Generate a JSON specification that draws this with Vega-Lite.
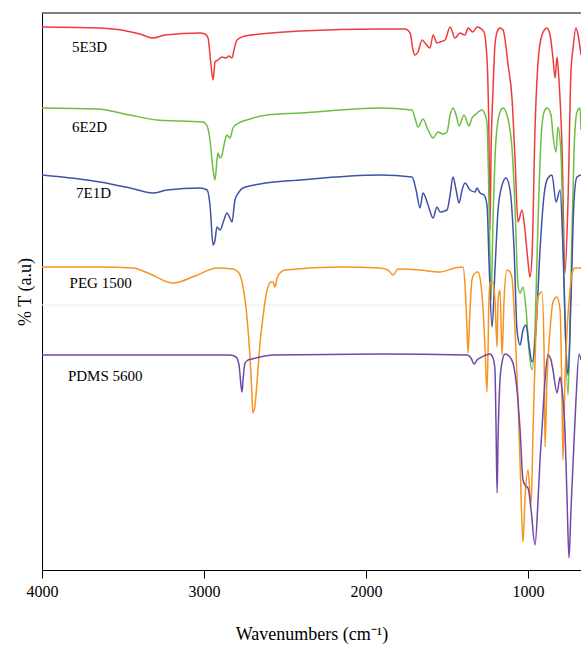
{
  "$schema": "https://vega.github.io/schema/vega-lite/v6.json",
  "width": 539,
  "height": 557,
  "autosize": {"type": "none"},
  "padding": {"left": 42, "top": 13, "right": 0, "bottom": 76},
  "background": "white",
  "config": {
    "view": {"stroke": null},
    "axis": {"labelFont": "Liberation Serif", "titleFont": "Liberation Serif"}
  },
  "datasets": {
    "spectra": [
      {"s":"5E3D","wn":4000,"t":543},{"s":"5E3D","wn":3642,"t":542},{"s":"5E3D","wn":3395,"t":536},{"s":"5E3D","wn":3315,"t":532},{"s":"5E3D","wn":3241,"t":535},{"s":"5E3D","wn":3025,"t":537},{"s":"5E3D","wn":2994,"t":536},{"s":"5E3D","wn":2975,"t":532},{"s":"5E3D","wn":2957,"t":505},{"s":"5E3D","wn":2944,"t":490},{"s":"5E3D","wn":2932,"t":508},{"s":"5E3D","wn":2914,"t":510},{"s":"5E3D","wn":2889,"t":513},{"s":"5E3D","wn":2864,"t":512},{"s":"5E3D","wn":2846,"t":514},{"s":"5E3D","wn":2827,"t":512},{"s":"5E3D","wn":2815,"t":520},{"s":"5E3D","wn":2796,"t":530},{"s":"5E3D","wn":2747,"t":534},{"s":"5E3D","wn":2654,"t":536},{"s":"5E3D","wn":2407,"t":539},{"s":"5E3D","wn":1914,"t":541},{"s":"5E3D","wn":1759,"t":541},{"s":"5E3D","wn":1728,"t":537},{"s":"5E3D","wn":1710,"t":520},{"s":"5E3D","wn":1698,"t":515},{"s":"5E3D","wn":1679,"t":518},{"s":"5E3D","wn":1654,"t":530},{"s":"5E3D","wn":1636,"t":527},{"s":"5E3D","wn":1605,"t":522},{"s":"5E3D","wn":1586,"t":535},{"s":"5E3D","wn":1562,"t":527},{"s":"5E3D","wn":1543,"t":528},{"s":"5E3D","wn":1512,"t":530},{"s":"5E3D","wn":1481,"t":543},{"s":"5E3D","wn":1451,"t":532},{"s":"5E3D","wn":1420,"t":537},{"s":"5E3D","wn":1389,"t":535},{"s":"5E3D","wn":1370,"t":542},{"s":"5E3D","wn":1340,"t":538},{"s":"5E3D","wn":1315,"t":543},{"s":"5E3D","wn":1296,"t":542},{"s":"5E3D","wn":1272,"t":538},{"s":"5E3D","wn":1253,"t":510},{"s":"5E3D","wn":1241,"t":430},{"s":"5E3D","wn":1235,"t":340},{"s":"5E3D","wn":1228,"t":420},{"s":"5E3D","wn":1216,"t":480},{"s":"5E3D","wn":1204,"t":525},{"s":"5E3D","wn":1191,"t":538},{"s":"5E3D","wn":1173,"t":542},{"s":"5E3D","wn":1154,"t":540},{"s":"5E3D","wn":1123,"t":505},{"s":"5E3D","wn":1099,"t":472},{"s":"5E3D","wn":1080,"t":410},{"s":"5E3D","wn":1062,"t":348},{"s":"5E3D","wn":1037,"t":360},{"s":"5E3D","wn":1019,"t":340},{"s":"5E3D","wn":1000,"t":308},{"s":"5E3D","wn":988,"t":293},{"s":"5E3D","wn":975,"t":315},{"s":"5E3D","wn":957,"t":440},{"s":"5E3D","wn":938,"t":508},{"s":"5E3D","wn":914,"t":535},{"s":"5E3D","wn":883,"t":542},{"s":"5E3D","wn":864,"t":535},{"s":"5E3D","wn":846,"t":512},{"s":"5E3D","wn":833,"t":492},{"s":"5E3D","wn":821,"t":513},{"s":"5E3D","wn":809,"t":490},{"s":"5E3D","wn":790,"t":422},{"s":"5E3D","wn":772,"t":297},{"s":"5E3D","wn":753,"t":370},{"s":"5E3D","wn":735,"t":498},{"s":"5E3D","wn":722,"t":522},{"s":"5E3D","wn":704,"t":542},{"s":"5E3D","wn":691,"t":535},{"s":"5E3D","wn":673,"t":515},

      {"s":"6E2D","wn":4000,"t":462},{"s":"6E2D","wn":3660,"t":461},{"s":"6E2D","wn":3457,"t":455},{"s":"6E2D","wn":3290,"t":450},{"s":"6E2D","wn":3148,"t":449},{"s":"6E2D","wn":3006,"t":448},{"s":"6E2D","wn":2981,"t":444},{"s":"6E2D","wn":2963,"t":430},{"s":"6E2D","wn":2944,"t":400},{"s":"6E2D","wn":2932,"t":390},{"s":"6E2D","wn":2920,"t":410},{"s":"6E2D","wn":2914,"t":417},{"s":"6E2D","wn":2901,"t":412},{"s":"6E2D","wn":2889,"t":415},{"s":"6E2D","wn":2870,"t":430},{"s":"6E2D","wn":2858,"t":435},{"s":"6E2D","wn":2840,"t":432},{"s":"6E2D","wn":2821,"t":442},{"s":"6E2D","wn":2796,"t":446},{"s":"6E2D","wn":2716,"t":451},{"s":"6E2D","wn":2611,"t":455},{"s":"6E2D","wn":2407,"t":457},{"s":"6E2D","wn":1914,"t":462},{"s":"6E2D","wn":1716,"t":460},{"s":"6E2D","wn":1698,"t":452},{"s":"6E2D","wn":1679,"t":443},{"s":"6E2D","wn":1648,"t":451},{"s":"6E2D","wn":1617,"t":440},{"s":"6E2D","wn":1586,"t":432},{"s":"6E2D","wn":1556,"t":438},{"s":"6E2D","wn":1525,"t":436},{"s":"6E2D","wn":1500,"t":438},{"s":"6E2D","wn":1481,"t":455},{"s":"6E2D","wn":1463,"t":462},{"s":"6E2D","wn":1444,"t":455},{"s":"6E2D","wn":1426,"t":444},{"s":"6E2D","wn":1395,"t":455},{"s":"6E2D","wn":1364,"t":444},{"s":"6E2D","wn":1346,"t":452},{"s":"6E2D","wn":1327,"t":455},{"s":"6E2D","wn":1284,"t":460},{"s":"6E2D","wn":1265,"t":455},{"s":"6E2D","wn":1253,"t":447},{"s":"6E2D","wn":1241,"t":370},{"s":"6E2D","wn":1228,"t":270},{"s":"6E2D","wn":1216,"t":350},{"s":"6E2D","wn":1198,"t":430},{"s":"6E2D","wn":1173,"t":458},{"s":"6E2D","wn":1154,"t":462},{"s":"6E2D","wn":1130,"t":455},{"s":"6E2D","wn":1099,"t":422},{"s":"6E2D","wn":1080,"t":362},{"s":"6E2D","wn":1062,"t":285},{"s":"6E2D","wn":1049,"t":277},{"s":"6E2D","wn":1031,"t":283},{"s":"6E2D","wn":1012,"t":260},{"s":"6E2D","wn":994,"t":220},{"s":"6E2D","wn":975,"t":200},{"s":"6E2D","wn":957,"t":240},{"s":"6E2D","wn":938,"t":350},{"s":"6E2D","wn":920,"t":430},{"s":"6E2D","wn":901,"t":458},{"s":"6E2D","wn":883,"t":462},{"s":"6E2D","wn":858,"t":455},{"s":"6E2D","wn":846,"t":435},{"s":"6E2D","wn":827,"t":418},{"s":"6E2D","wn":815,"t":443},{"s":"6E2D","wn":796,"t":415},{"s":"6E2D","wn":778,"t":290},{"s":"6E2D","wn":753,"t":175},{"s":"6E2D","wn":735,"t":290},{"s":"6E2D","wn":716,"t":420},{"s":"6E2D","wn":698,"t":458},{"s":"6E2D","wn":679,"t":462},{"s":"6E2D","wn":673,"t":440},

      {"s":"7E1D","wn":4000,"t":395},{"s":"7E1D","wn":3642,"t":388},{"s":"7E1D","wn":3457,"t":382},{"s":"7E1D","wn":3315,"t":377},{"s":"7E1D","wn":3228,"t":380},{"s":"7E1D","wn":3025,"t":382},{"s":"7E1D","wn":2981,"t":380},{"s":"7E1D","wn":2963,"t":365},{"s":"7E1D","wn":2944,"t":325},{"s":"7E1D","wn":2932,"t":330},{"s":"7E1D","wn":2920,"t":343},{"s":"7E1D","wn":2901,"t":340},{"s":"7E1D","wn":2877,"t":350},{"s":"7E1D","wn":2858,"t":357},{"s":"7E1D","wn":2840,"t":352},{"s":"7E1D","wn":2827,"t":348},{"s":"7E1D","wn":2809,"t":370},{"s":"7E1D","wn":2784,"t":378},{"s":"7E1D","wn":2759,"t":382},{"s":"7E1D","wn":2654,"t":386},{"s":"7E1D","wn":2407,"t":390},{"s":"7E1D","wn":1914,"t":395},{"s":"7E1D","wn":1716,"t":393},{"s":"7E1D","wn":1691,"t":380},{"s":"7E1D","wn":1667,"t":362},{"s":"7E1D","wn":1648,"t":377},{"s":"7E1D","wn":1617,"t":365},{"s":"7E1D","wn":1586,"t":352},{"s":"7E1D","wn":1562,"t":363},{"s":"7E1D","wn":1543,"t":358},{"s":"7E1D","wn":1500,"t":360},{"s":"7E1D","wn":1481,"t":375},{"s":"7E1D","wn":1463,"t":393},{"s":"7E1D","wn":1444,"t":380},{"s":"7E1D","wn":1426,"t":367},{"s":"7E1D","wn":1407,"t":380},{"s":"7E1D","wn":1389,"t":387},{"s":"7E1D","wn":1358,"t":380},{"s":"7E1D","wn":1327,"t":378},{"s":"7E1D","wn":1315,"t":382},{"s":"7E1D","wn":1296,"t":377},{"s":"7E1D","wn":1272,"t":375},{"s":"7E1D","wn":1253,"t":365},{"s":"7E1D","wn":1241,"t":310},{"s":"7E1D","wn":1222,"t":243},{"s":"7E1D","wn":1204,"t":300},{"s":"7E1D","wn":1185,"t":360},{"s":"7E1D","wn":1160,"t":385},{"s":"7E1D","wn":1136,"t":392},{"s":"7E1D","wn":1111,"t":380},{"s":"7E1D","wn":1086,"t":320},{"s":"7E1D","wn":1068,"t":240},{"s":"7E1D","wn":1049,"t":225},{"s":"7E1D","wn":1031,"t":240},{"s":"7E1D","wn":1012,"t":245},{"s":"7E1D","wn":994,"t":225},{"s":"7E1D","wn":975,"t":208},{"s":"7E1D","wn":951,"t":240},{"s":"7E1D","wn":926,"t":320},{"s":"7E1D","wn":901,"t":375},{"s":"7E1D","wn":877,"t":392},{"s":"7E1D","wn":852,"t":395},{"s":"7E1D","wn":827,"t":368},{"s":"7E1D","wn":802,"t":380},{"s":"7E1D","wn":784,"t":320},{"s":"7E1D","wn":765,"t":220},{"s":"7E1D","wn":753,"t":195},{"s":"7E1D","wn":735,"t":270},{"s":"7E1D","wn":716,"t":370},{"s":"7E1D","wn":698,"t":393},{"s":"7E1D","wn":673,"t":395},

      {"s":"PEG","wn":4000,"t":303},{"s":"PEG","wn":3642,"t":303},{"s":"PEG","wn":3438,"t":302},{"s":"PEG","wn":3333,"t":296},{"s":"PEG","wn":3191,"t":287},{"s":"PEG","wn":3056,"t":294},{"s":"PEG","wn":2920,"t":302},{"s":"PEG","wn":2821,"t":301},{"s":"PEG","wn":2790,"t":298},{"s":"PEG","wn":2778,"t":295},{"s":"PEG","wn":2759,"t":283},{"s":"PEG","wn":2735,"t":253},{"s":"PEG","wn":2716,"t":213},{"s":"PEG","wn":2704,"t":175},{"s":"PEG","wn":2698,"t":157},{"s":"PEG","wn":2685,"t":165},{"s":"PEG","wn":2673,"t":187},{"s":"PEG","wn":2654,"t":227},{"s":"PEG","wn":2636,"t":253},{"s":"PEG","wn":2617,"t":275},{"s":"PEG","wn":2605,"t":283},{"s":"PEG","wn":2586,"t":288},{"s":"PEG","wn":2574,"t":288},{"s":"PEG","wn":2562,"t":283},{"s":"PEG","wn":2549,"t":292},{"s":"PEG","wn":2531,"t":297},{"s":"PEG","wn":2500,"t":300},{"s":"PEG","wn":2160,"t":303},{"s":"PEG","wn":1914,"t":302},{"s":"PEG","wn":1864,"t":300},{"s":"PEG","wn":1833,"t":295},{"s":"PEG","wn":1802,"t":301},{"s":"PEG","wn":1667,"t":300},{"s":"PEG","wn":1543,"t":298},{"s":"PEG","wn":1451,"t":302},{"s":"PEG","wn":1401,"t":303},{"s":"PEG","wn":1389,"t":285},{"s":"PEG","wn":1377,"t":243},{"s":"PEG","wn":1370,"t":217},{"s":"PEG","wn":1358,"t":260},{"s":"PEG","wn":1346,"t":290},{"s":"PEG","wn":1327,"t":297},{"s":"PEG","wn":1309,"t":298},{"s":"PEG","wn":1290,"t":285},{"s":"PEG","wn":1278,"t":263},{"s":"PEG","wn":1265,"t":220},{"s":"PEG","wn":1253,"t":178},{"s":"PEG","wn":1241,"t":270},{"s":"PEG","wn":1235,"t":287},{"s":"PEG","wn":1216,"t":288},{"s":"PEG","wn":1204,"t":270},{"s":"PEG","wn":1191,"t":223},{"s":"PEG","wn":1185,"t":270},{"s":"PEG","wn":1173,"t":280},{"s":"PEG","wn":1160,"t":215},{"s":"PEG","wn":1148,"t":270},{"s":"PEG","wn":1130,"t":300},{"s":"PEG","wn":1111,"t":298},{"s":"PEG","wn":1099,"t":292},{"s":"PEG","wn":1080,"t":240},{"s":"PEG","wn":1062,"t":170},{"s":"PEG","wn":1049,"t":107},{"s":"PEG","wn":1031,"t":28},{"s":"PEG","wn":1019,"t":70},{"s":"PEG","wn":1000,"t":100},{"s":"PEG","wn":981,"t":65},{"s":"PEG","wn":969,"t":140},{"s":"PEG","wn":951,"t":240},{"s":"PEG","wn":938,"t":273},{"s":"PEG","wn":914,"t":278},{"s":"PEG","wn":901,"t":220},{"s":"PEG","wn":895,"t":123},{"s":"PEG","wn":883,"t":190},{"s":"PEG","wn":864,"t":240},{"s":"PEG","wn":846,"t":268},{"s":"PEG","wn":821,"t":273},{"s":"PEG","wn":802,"t":260},{"s":"PEG","wn":790,"t":170},{"s":"PEG","wn":784,"t":110},{"s":"PEG","wn":772,"t":190},{"s":"PEG","wn":759,"t":240},{"s":"PEG","wn":741,"t":280},{"s":"PEG","wn":728,"t":297},{"s":"PEG","wn":710,"t":302},{"s":"PEG","wn":673,"t":302},

      {"s":"PDMS","wn":4000,"t":215},{"s":"PDMS","wn":2840,"t":215},{"s":"PDMS","wn":2802,"t":213},{"s":"PDMS","wn":2784,"t":205},{"s":"PDMS","wn":2772,"t":185},{"s":"PDMS","wn":2765,"t":178},{"s":"PDMS","wn":2759,"t":190},{"s":"PDMS","wn":2747,"t":207},{"s":"PDMS","wn":2728,"t":210},{"s":"PDMS","wn":2704,"t":211},{"s":"PDMS","wn":2654,"t":213},{"s":"PDMS","wn":2574,"t":215},{"s":"PDMS","wn":1914,"t":216},{"s":"PDMS","wn":1377,"t":215},{"s":"PDMS","wn":1352,"t":212},{"s":"PDMS","wn":1333,"t":206},{"s":"PDMS","wn":1315,"t":210},{"s":"PDMS","wn":1296,"t":212},{"s":"PDMS","wn":1235,"t":216},{"s":"PDMS","wn":1216,"t":212},{"s":"PDMS","wn":1204,"t":200},{"s":"PDMS","wn":1198,"t":150},{"s":"PDMS","wn":1191,"t":77},{"s":"PDMS","wn":1185,"t":130},{"s":"PDMS","wn":1173,"t":190},{"s":"PDMS","wn":1160,"t":208},{"s":"PDMS","wn":1142,"t":216},{"s":"PDMS","wn":1117,"t":214},{"s":"PDMS","wn":1093,"t":207},{"s":"PDMS","wn":1068,"t":180},{"s":"PDMS","wn":1049,"t":140},{"s":"PDMS","wn":1031,"t":90},{"s":"PDMS","wn":1019,"t":85},{"s":"PDMS","wn":1000,"t":82},{"s":"PDMS","wn":981,"t":60},{"s":"PDMS","wn":957,"t":25},{"s":"PDMS","wn":938,"t":70},{"s":"PDMS","wn":926,"t":110},{"s":"PDMS","wn":914,"t":140},{"s":"PDMS","wn":895,"t":190},{"s":"PDMS","wn":877,"t":215},{"s":"PDMS","wn":858,"t":210},{"s":"PDMS","wn":846,"t":200},{"s":"PDMS","wn":821,"t":177},{"s":"PDMS","wn":802,"t":193},{"s":"PDMS","wn":790,"t":180},{"s":"PDMS","wn":772,"t":140},{"s":"PDMS","wn":759,"t":70},{"s":"PDMS","wn":747,"t":12},{"s":"PDMS","wn":735,"t":60},{"s":"PDMS","wn":722,"t":107},{"s":"PDMS","wn":704,"t":170},{"s":"PDMS","wn":685,"t":216},{"s":"PDMS","wn":673,"t":210}
    ],
    "labels": [
      {"label":"5E3D","wn":3815,"t":523},
      {"label":"6E2D","wn":3815,"t":443},
      {"label":"7E1D","wn":3790,"t":377},
      {"label":"PEG 1500","wn":3830,"t":287},
      {"label":"PDMS 5600","wn":3840,"t":194}
    ],
    "guides": [
      {"t":265,"kind":"faint"},
      {"t":557,"kind":"frame"}
    ]
  },
  "layer": [
    {
      "data": {"name": "guides"},
      "transform": [{"filter": "datum.kind === 'faint'"}],
      "mark": {"type": "rule", "stroke": "#ececec", "strokeWidth": 1},
      "encoding": {
        "y": {"field": "t", "type": "quantitative", "scale": {"domain": [0, 557], "nice": false, "zero": false}}
      }
    },
    {
      "data": {"name": "spectra"},
      "mark": {"type": "line", "strokeWidth": 1.5, "clip": true, "interpolate": "monotone"},
      "encoding": {
        "x": {
          "field": "wn", "type": "quantitative",
          "scale": {"domain": [4000, 673], "nice": false, "zero": false},
          "axis": {
            "values": [4000, 3000, 2000, 1000],
            "format": "d",
            "grid": false,
            "title": "Wavenumbers  (cm⁻¹)",
            "titleFont": "Liberation Serif", "titleFontSize": 18, "titleFontWeight": "normal", "titleColor": "black", "titlePadding": 26,
            "labelFont": "Liberation Serif", "labelFontSize": 16, "labelColor": "black", "labelPadding": 5,
            "tickSize": 8, "tickColor": "black", "domainColor": "black", "tickWidth": 1, "domainWidth": 1,
            "labelFlush": false
          }
        },
        "y": {
          "field": "t", "type": "quantitative",
          "scale": {"domain": [0, 557], "nice": false, "zero": false},
          "axis": {
            "title": "% T (a.u)",
            "titleFont": "Liberation Serif", "titleFontSize": 18, "titleFontWeight": "normal", "titleColor": "black", "titlePadding": 8,
            "labels": false, "ticks": false, "grid": false,
            "domainColor": "black", "domainWidth": 1
          }
        },
        "color": {
          "field": "s", "type": "nominal",
          "scale": {"domain": ["5E3D", "6E2D", "7E1D", "PEG", "PDMS"], "range": ["#EE3B3B", "#6DBE45", "#3F52A8", "#F7931E", "#7049A8"]},
          "legend": null
        }
      }
    },
    {
      "data": {"name": "guides"},
      "transform": [{"filter": "datum.kind === 'frame'"}],
      "mark": {"type": "rule", "stroke": "black", "strokeWidth": 1},
      "encoding": {
        "y": {"field": "t", "type": "quantitative"}
      }
    },
    {
      "data": {"name": "labels"},
      "mark": {"type": "text", "font": "Liberation Serif", "fontSize": 15, "align": "left", "baseline": "middle", "color": "black"},
      "encoding": {
        "x": {"field": "wn", "type": "quantitative"},
        "y": {"field": "t", "type": "quantitative"},
        "text": {"field": "label"}
      }
    }
  ]
}
